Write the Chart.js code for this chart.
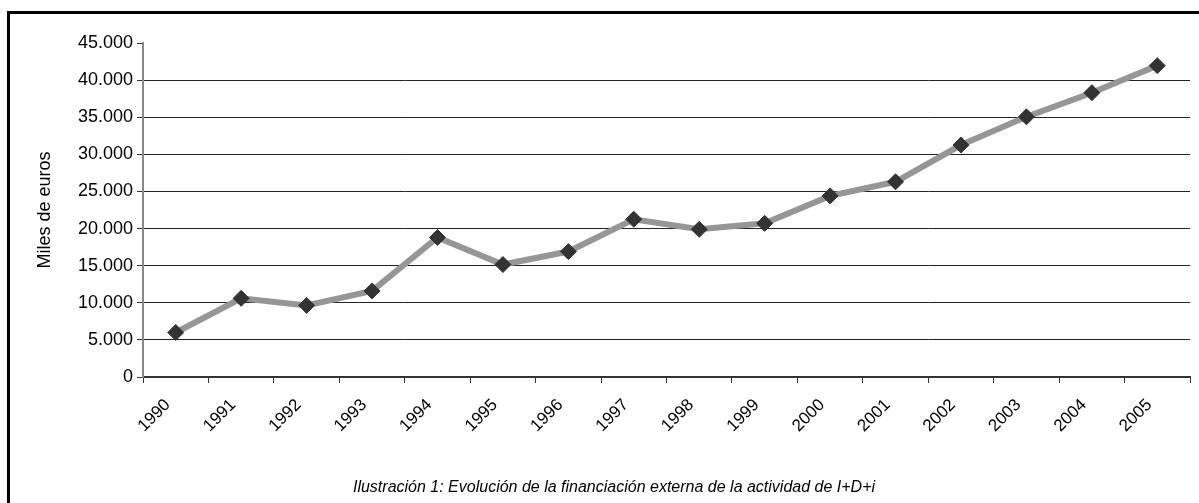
<!DOCTYPE html>
<html>
<head>
<meta charset="utf-8">
<script src="https://cdn.jsdelivr.net/npm/chart.js@4/dist/chart.umd.min.js"></script>
<style>
  body { margin: 0; background: #fff; overflow: hidden; }
  .frame {
    position: absolute; left: 7px; top: 11px;
    width: 1300px; height: 600px;
    border: 3px solid #000;
  }
  .wrap { position: absolute; left: 0; top: 0; width: 1199px; height: 503px; }
  .caption {
    position: absolute; left: 14px; width: 1200px; top: 478px;
    text-align: center;
    font: italic 16px "Liberation Sans", Arial, sans-serif;
    color: #000;
  }
</style>
</head>
<body>
<div class="frame"></div>
<div class="wrap"><canvas id="chart" width="1199" height="503"></canvas></div>
<div class="caption">Ilustración 1: Evolución de la financiación externa de la actividad de I+D+i</div>
<script>
const years = ["1990", "1991", "1992", "1993", "1994", "1995", "1996", "1997",
  "1998", "1999", "2000", "2001", "2002", "2003", "2004", "2005"];
const financiacion = [6000, 10600, 9650, 11600, 18800, 15150, 16900, 21250,
  19900, 20700, 24400, 26300, 31250, 35050, 38300, 41950];
const yMax = 45000;
const yStep = 5000;

const family = "'Liberation Sans', Arial, sans-serif";

new Chart(document.getElementById("chart"), {
  type: "line",
  data: {
    labels: years,
    datasets: [
      {
        data: financiacion,
        borderColor: "#969696",
        borderWidth: 6,
        pointStyle: "rectRot",
        pointRadius: 8,
        pointHoverRadius: 8,
        pointBackgroundColor: "#333333",
        pointBorderColor: "#333333",
        pointBorderWidth: 1,
        tension: 0,
        fill: false,
      },
    ],
  },
  options: {
    responsive: false,
    animation: false,
    layout: { padding: { top: 43, right: 4, left: 0, bottom: 0 } },
    plugins: {
      legend: { display: false },
      tooltip: { enabled: false },
    },
    scales: {
      x: {
        offset: true,
        grid: {
          offset: true,
          drawOnChartArea: false,
          tickLength: 6,
          color: "#333",
        },
        border: { color: "#333", width: 2 },
        ticks: {
          color: "#000",
          font: { family, size: 17 },
          minRotation: 45,
          maxRotation: 45,
          padding: 12,
          labelOffset: -8,
        },
        afterFit(scale) {
          scale.height = 126;
        },
      },
      y: {
        min: 0,
        max: yMax,
        grid: {
          color: (ctx) => (ctx.tick && ctx.tick.value === yMax ? "rgba(0,0,0,0)" : "#222"),
          tickColor: "#333",
          tickLength: 6,
          lineWidth: 1,
        },
        border: { color: "#888", width: 2 },
        ticks: {
          stepSize: yStep,
          color: "#000",
          font: { family, size: 18 },
          padding: 4,
          callback: (v) => (v === 0 ? "0" : v.toLocaleString("de-DE")),
        },
        title: {
          display: true,
          text: "Miles de euros",
          color: "#000",
          font: { family, size: 18 },
          padding: { top: 34, bottom: 0 },
        },
        afterFit(scale) {
          scale.width = 143;
        },
      },
    },
  },
});
</script>
</body>
</html>
